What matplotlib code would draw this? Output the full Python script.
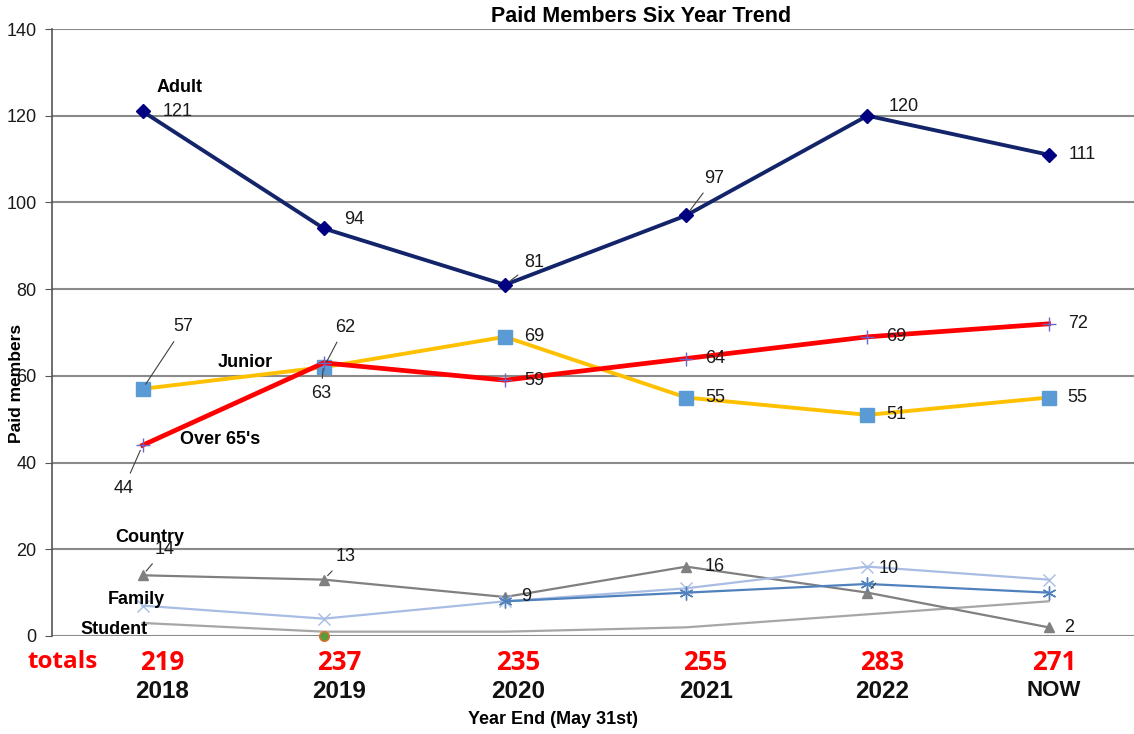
import matplotlib
matplotlib.use('Agg')
import matplotlib.pyplot as plt
import numpy as np

years = ['2018', '2019', '2020', '2021', '2022', 'NOW']
totals = [219, 237, 235, 255, 283, 271]
adult = [121, 94, 81, 97, 120, 111]
junior = [57, 62, 69, 55, 51, 55]
over65 = [44, 63, 59, 64, 69, 72]
country = [14, 13, 9, 16, 10, 2]
family = [7, 4, 8, 11, 16, 13]
family2 = [np.nan, np.nan, 8, 10, 12, 10]
student = [3, 1, 1, 2, 5, 8]
other = [np.nan, 0, np.nan, np.nan, np.nan, np.nan]

W, H = 1134, 734
plt.rcParams['font.family'] = ['Liberation Sans', 'DejaVu Sans']
fig = plt.figure(figsize=(W / 100, H / 100), dpi=100)
ax = fig.add_axes([52 / W, 98 / H, 1 - 52 / W, (636 - 29) / H])
x = np.arange(len(years))

ax.set_ylim(0, 140)
ax.set_xlim(-0.5, -0.5 + (W - 52) / 181.2)
ax.set_yticks(np.arange(0, 141, 20))
ax.set_xticks([])
ax.grid(axis='y', color='#8a8a8a', lw=1.5)
ax.set_axisbelow(True)
for s in ['top', 'right', 'bottom']:
    ax.spines[s].set_visible(False)
ax.spines['left'].set_color('#555555')
ax.spines['left'].set_linewidth(1.2)
ax.tick_params(axis='y', labelsize=13, length=5, color='#555555', pad=6, labelcolor='#1a1a1a')

ax.plot(x, student, color='#a6a6a6', lw=1.6, zorder=3)
ax.plot(x, country, color='#808080', lw=1.6, marker='^', ms=7, zorder=3)
ax.plot(x, family, color='#a9bce3', lw=1.6, marker='x', ms=9, mew=1.0, zorder=3)
ax.plot(x, family2, color='#4f81bd', lw=1.6, marker=(6, 2, 0), ms=10, mew=1.0, zorder=3)
ax.plot(x, other, color='#6aa84f', lw=0, marker='o', ms=7, mfc='#5a9a3a', mec='#e07030', zorder=4, clip_on=False)
ax.plot(x, junior, color='#ffc000', lw=2.8, marker='s', ms=10, mfc='#5b9bd5', mec='#5b9bd5', zorder=4)
ax.plot(x, over65, color='#ff0000', lw=3.4, marker='+', ms=10, mec='#6666cc', mew=1.0, zorder=5)
ax.plot(x, adult, color='#13246b', lw=2.8, marker='D', ms=7.5, mfc='#000080', mec='#000080', zorder=6)

fs = 13
def lab(xi, yi, txt, dx, dy, leader=False):
    kw = {}
    if leader:
        kw['arrowprops'] = dict(arrowstyle='-', color='#404040', lw=0.8, shrinkA=3, shrinkB=4)
    ax.annotate(txt, (xi, yi), xytext=(dx, dy), textcoords='offset pixels',
                ha='center', va='center', fontsize=fs, color='#1a1a1a', zorder=8, **kw)

adult_off = [(35, 0, 0), (30, 9, 0), (29, 22, 1), (28, 37, 1), (36, 9, 0), (34, 0, 0)]
junior_off = [(41, 62, 1), (21, 40, 1), (29, 0, 0), (29, 0, 0), (29, 0, 0), (29, 0, 0)]
over_off = [(-19, -43, 1), (-3, -31, 1), (29, 0, 0), (29, 0, 0), (29, 0, 0), (29, 0, 0)]
country_off = [(22, 26, 1), (22, 23, 1), (21, 0, 0), (28, 0, 0), (21, 24, 1), (21, 0, 0)]
for series, offs in [(adult, adult_off), (junior, junior_off), (over65, over_off), (country, country_off)]:
    for i, (v, o) in enumerate(zip(series, offs)):
        lab(x[i], v, str(v), o[0], o[1], bool(o[2]))

def ftext(px, py, txt, **kw):
    fig.text(px / W, 1 - py / H, txt, **kw)

# series name labels
nfs = 13
ftext(157, 87, 'Adult', fontsize=nfs, fontweight='bold', ha='left', va='center')
ftext(218, 362, 'Junior', fontsize=nfs, fontweight='bold', ha='left', va='center')
ftext(180, 439, "Over 65's", fontsize=nfs, fontweight='bold', ha='left', va='center')
ftext(115, 538, 'Country', fontsize=nfs, fontweight='bold', ha='left', va='center')
ftext(108, 600, 'Family', fontsize=nfs, fontweight='bold', ha='left', va='center')
ftext(80, 630, 'Student', fontsize=nfs, fontweight='bold', ha='left', va='center')

# title, axis labels
ftext(641, 17, 'Paid Members Six Year Trend', fontsize=15.5, fontweight='bold', ha='center', va='center')
ftext(17, 383, 'Paid members', fontsize=12.5, fontweight='bold', ha='center', va='center', rotation=90)
ftext(553, 719, 'Year End (May 31st)', fontsize=13, fontweight='bold', ha='center', va='center')

# totals and year labels
nudges = [19, 15, 13, 19, 14, 5]
ftext(63, 662, 'totals', fontsize=17.5, fontweight='bold', color='#ff0000', ha='center', va='center',
      family=['Open Sans', 'DejaVu Sans'])
for i in range(len(years)):
    px = 143 + 181.2 * i + nudges[i]
    ftext(px, 662, str(totals[i]), fontsize=18.5, fontweight='bold', color='#ff0000', ha='center', va='center',
          family=['Open Sans', 'DejaVu Sans'])
    ftext(px, 691, years[i], fontsize=17.5 if years[i] != 'NOW' else 16, fontweight='bold', color='#111111',
          ha='center', va='center')

fig.savefig('out.png', dpi=100, facecolor='white')
